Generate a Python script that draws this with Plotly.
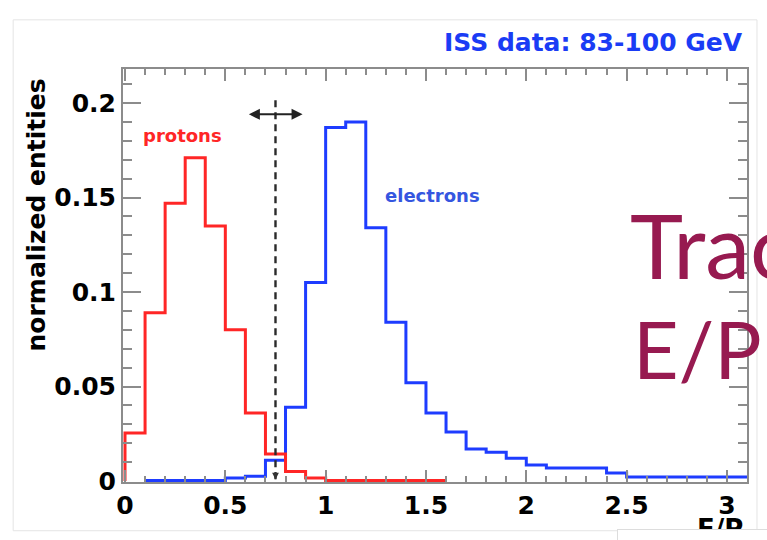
import plotly.graph_objects as go

# ---------------- data ----------------
# proton histogram: bin left edges and contents (bin width 0.1)
proton_bin_lo = [0.0, 0.1, 0.2, 0.3, 0.4, 0.5, 0.6, 0.7, 0.8, 0.9, 1.0, 1.1, 1.2, 1.3, 1.4, 1.5]
proton_vals = [0.0254, 0.089, 0.147, 0.171, 0.135, 0.080, 0.036, 0.0143, 0.0050, 0.0016,
               0.0003, 0.0003, 0.0003, 0.0003, 0.0003, 0.0003]

# electron histogram
electron_bin_lo = [0.1, 0.2, 0.3, 0.4, 0.5, 0.6, 0.7, 0.8, 0.9, 1.0, 1.1, 1.2, 1.3, 1.4, 1.5,
                   1.6, 1.7, 1.8, 1.9, 2.0, 2.1, 2.2, 2.3, 2.4, 2.5, 2.6, 2.7, 2.8, 2.9, 3.0]
electron_vals = [0.0003, 0.0003, 0.0003, 0.0003, 0.0016, 0.0026, 0.011, 0.039, 0.105, 0.187,
                 0.190, 0.134, 0.084, 0.052, 0.036, 0.026, 0.017, 0.0153, 0.012, 0.0085,
                 0.0069, 0.0069, 0.0069, 0.0042, 0.0021, 0.0021, 0.0021, 0.0021, 0.0021, 0.0021]
bin_width = 0.1

cut_value = 0.75          # dashed E/P cut
arrow_range = [0.61, 0.885]
arrow_level = 0.194

x_ticks = [0, 0.5, 1, 1.5, 2, 2.5, 3]
x_ticklabels = ["0", "0.5", "1", "1.5", "2", "2.5", "3"]
y_ticks = [0, 0.05, 0.1, 0.15, 0.2]
y_ticklabels = ["0", "0.05", "0.1", "0.15", "0.2"]

RED = "#ff2626"
BLUE = "#1e3cff"
AXIS = "#8c8c8c"
MAROON = "#971a50"
FONT = "DejaVu Sans"


def step_xy(lo, vals, start_from_zero=False):
    xs = list(lo) + [lo[-1] + bin_width]
    ys = list(vals) + [vals[-1]]
    if start_from_zero:
        xs = [lo[0]] + xs
        ys = [0] + ys
    return xs, ys


px_, py_ = step_xy(proton_bin_lo, proton_vals, start_from_zero=True)
ex_, ey_ = step_xy(electron_bin_lo, electron_vals)

fig = go.Figure()
fig.add_trace(go.Scatter(x=ex_, y=ey_, mode="lines", line=dict(color=BLUE, width=3, shape="hv"),
                         name="electrons", showlegend=False, hoverinfo="skip"))
fig.add_trace(go.Scatter(x=px_, y=py_, mode="lines", line=dict(color=RED, width=3, shape="hv"),
                         name="protons", showlegend=False, hoverinfo="skip"))

tickfont = dict(family=FONT, size=25, color="black", weight="bold")

fig.update_xaxes(
    range=[-0.01, 3.1], showgrid=False, zeroline=False,
    showline=True, linecolor=AXIS, linewidth=2, mirror="ticks",
    ticks="inside", ticklen=12, tickwidth=1.5, tickcolor=AXIS,
    tickvals=x_ticks, ticktext=x_ticklabels, tickfont=tickfont,
    minor=dict(dtick=0.1, tick0=0, ticks="inside", ticklen=6, tickwidth=1.5, tickcolor=AXIS, showgrid=False),
)
fig.update_yaxes(
    range=[-0.0005, 0.218], showgrid=False, zeroline=False,
    showline=True, linecolor=AXIS, linewidth=2, mirror="ticks",
    ticks="inside", ticklen=18, tickwidth=1.5, tickcolor=AXIS,
    tickvals=y_ticks, ticktext=y_ticklabels, tickfont=tickfont,
    minor=dict(dtick=0.01, tick0=0, ticks="inside", ticklen=9, tickwidth=1.5, tickcolor=AXIS, showgrid=False),
)

shapes = [
    # faint outer frame of the slide picture
    dict(type="rect", xref="paper", yref="paper", x0=-0.176, x1=1.016, y0=-0.118, y1=1.119,
         line=dict(color="#e4e4e4", width=1), fillcolor="rgba(0,0,0,0)", layer="below"),
    # dashed cut line
    dict(type="line", xref="x", yref="y", x0=cut_value, x1=cut_value, y0=0.001, y1=0.2026,
         line=dict(color="#2a2a2a", width=2.4, dash="7px,5px"), layer="above"),
]

annotations = [
    dict(text="ISS data: 83-100 GeV", xref="paper", yref="paper", x=0.996, y=1.063,
         xanchor="right", yanchor="middle", showarrow=False,
         font=dict(family=FONT, size=25, color="#1a3cf5", weight="bold")),
    dict(text="normalized entities", xref="paper", yref="paper", x=-0.139, y=0.646,
         xanchor="center", yanchor="middle", textangle=-90, showarrow=False,
         font=dict(family=FONT, size=25, color="black", weight="bold")),
    dict(text="protons", xref="x", yref="y", x=0.285, y=0.183, showarrow=False,
         xanchor="center", yanchor="middle",
         font=dict(family=FONT, size=18, color=RED, weight="bold")),
    dict(text="electrons", xref="x", yref="y", x=1.533, y=0.151, showarrow=False,
         xanchor="center", yanchor="middle",
         font=dict(family=FONT, size=18, color="#3556e0", weight="bold")),
    # double arrow
    dict(text="", xref="x", yref="y", x=arrow_range[1], y=arrow_level,
         axref="x", ayref="y", ax=arrow_range[0], ay=arrow_level,
         showarrow=True, arrowhead=2, arrowside="end+start", arrowwidth=2, arrowsize=1.1,
         arrowcolor="#222222"),
    # small arrow head at the bottom of the cut line
    dict(text="", xref="x", yref="y", x=cut_value, y=0.0008, ax=0, ay=-9,
         showarrow=True, arrowhead=2, arrowwidth=1.5, arrowsize=0.9, arrowcolor="#333333"),
    # x axis title (mostly hidden)
    dict(text="E/P", xref="paper", yref="paper", x=0.957, y=-0.113,
         xanchor="center", yanchor="middle", showarrow=False,
         font=dict(family=FONT, size=26, color="black", weight="bold")),
    # white box covering the lower right corner
    dict(text=" ", xref="paper", yref="paper", x=(617 - 123) / 624, y=(482 - 529) / 413,
         xanchor="left", yanchor="top", showarrow=False, width=180, height=30,
         bgcolor="white", bordercolor="#dddddd", borderwidth=1, borderpad=0),
    # overlay slide text
    dict(text="Trac", xref="paper", yref="paper", x=(628 - 123) / 624, y=(482 - 244) / 413,
         xanchor="left", yanchor="middle", showarrow=False,
         font=dict(family="Lato", size=90, color=MAROON)),
    dict(text="E/P", xref="paper", yref="paper", x=(631 - 123) / 624, y=(482 - 348) / 413,
         xanchor="left", yanchor="middle", showarrow=False,
         font=dict(family="Lato", size=79, color=MAROON)),
]

fig.update_layout(
    width=767, height=540,
    margin=dict(l=123, r=20, t=69, b=58),
    paper_bgcolor="white", plot_bgcolor="white",
    shapes=shapes, annotations=annotations,
    showlegend=False,
)

fig.write_html("out.html")
